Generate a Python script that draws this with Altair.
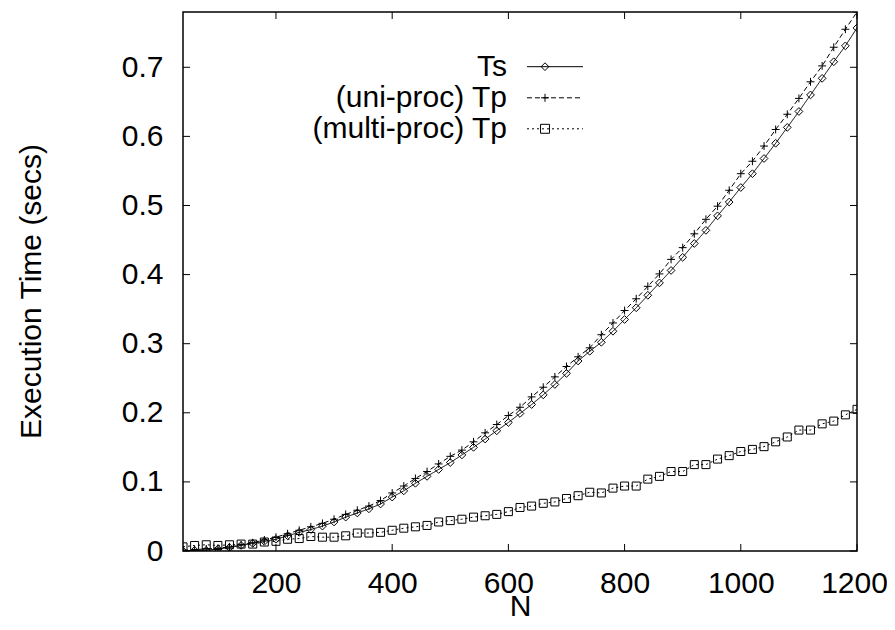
import altair as alt
import pandas as pd

# ---------------- data ----------------
N = [40, 60, 80, 100, 120, 140, 160, 180, 200, 220, 240, 260, 280, 300, 320, 340,
     360, 380, 400, 420, 440, 460, 480, 500, 520, 540, 560, 580, 600, 620, 640, 660,
     680, 700, 720, 740, 760, 780, 800, 820, 840, 860, 880, 900, 920, 940, 960, 980,
     1000, 1020, 1040, 1060, 1080, 1100, 1120, 1140, 1160, 1180, 1200]

ts = [0.000, 0.001, 0.001, 0.003, 0.005, 0.008, 0.011, 0.014, 0.017, 0.022, 0.027,
      0.031, 0.036, 0.042, 0.049, 0.055, 0.061, 0.068, 0.078, 0.087, 0.098, 0.108,
      0.118, 0.128, 0.139, 0.150, 0.162, 0.174, 0.186, 0.199, 0.212, 0.226, 0.241,
      0.257, 0.275, 0.289, 0.302, 0.318, 0.335, 0.352, 0.370, 0.388, 0.406, 0.425,
      0.445, 0.464, 0.485, 0.505, 0.526, 0.546, 0.568, 0.590, 0.613, 0.636, 0.660,
      0.684, 0.708, 0.731, 0.757]

tp_uni = [0.001, 0.002, 0.003, 0.004, 0.006, 0.009, 0.012, 0.016, 0.020, 0.025, 0.030,
          0.035, 0.040, 0.046, 0.053, 0.059, 0.065, 0.073, 0.084, 0.094, 0.105, 0.115,
          0.126, 0.137, 0.146, 0.158, 0.171, 0.183, 0.196, 0.208, 0.223, 0.237, 0.252,
          0.267, 0.281, 0.294, 0.313, 0.330, 0.348, 0.365, 0.383, 0.401, 0.422, 0.439,
          0.459, 0.480, 0.499, 0.522, 0.546, 0.564, 0.586, 0.610, 0.632, 0.655, 0.679,
          0.702, 0.729, 0.755, 0.780]

tp_multi = [0.006, 0.008, 0.009, 0.008, 0.009, 0.010, 0.010, 0.013, 0.014, 0.017, 0.018,
            0.021, 0.020, 0.020, 0.022, 0.026, 0.026, 0.027, 0.030, 0.033, 0.035, 0.037,
            0.042, 0.044, 0.046, 0.049, 0.051, 0.053, 0.057, 0.063, 0.065, 0.069, 0.071,
            0.076, 0.080, 0.085, 0.084, 0.091, 0.094, 0.094, 0.104, 0.108, 0.115, 0.115,
            0.125, 0.125, 0.133, 0.138, 0.144, 0.147, 0.151, 0.158, 0.165, 0.175, 0.175,
            0.184, 0.188, 0.197, 0.205]

series_names = ["Ts", "(uni-proc) Tp", "(multi-proc) Tp"]
x_ticks = [200, 400, 600, 800, 1000, 1200]
y_ticks = [0, 0.1, 0.2, 0.3, 0.4, 0.5, 0.6, 0.7]

# ---------------- build ----------------
rows = []
for name, vals in zip(series_names, [ts, tp_uni, tp_multi]):
    for n, v in zip(N, vals):
        rows.append({"N": n, "t": v, "series": name})
df = pd.DataFrame(rows)

W, H = 674, 539
FONT = "Liberation Sans"
FS = 30

PLUS = "M-1,0H1M0,-1V1"
dash_range = [[1, 0], [5, 3], [2, 3]]
shape_range = ["diamond", PLUS, "square"]
size_range = [60, 64, 80]

xs = alt.Scale(domain=[40, 1200], nice=False, zero=False)
ys = alt.Scale(domain=[0, 0.78], nice=False, zero=False)

xaxis = alt.Axis(values=x_ticks, format="d", ticks=False, domain=False, grid=False,
                 labelFlush=False, labelOverlap=False, labelBound=False,
                 labelOffset={"condition": {"test": "datum.value == 1200", "value": -3}, "value": 0},
                 labelPadding=17, labelFontSize=FS, labelFont=FONT, labelColor="black",
                 title="N", titleFontSize=FS, titleFont=FONT, titleFontWeight="normal",
                 titleColor="black", titleBaseline="middle", titleY=55, titleX=W / 2)
yaxis = alt.Axis(values=y_ticks, ticks=False, domain=False, grid=False,
                 labelFlush=False, labelOverlap=False, labelBound=False,
                 labelPadding=20, labelFontSize=FS, labelFont=FONT, labelColor="black",
                 labelExpr="datum.value == 0 ? '0' : format(datum.value, '.1f')",
                 title="Execution Time (secs)", titleFontSize=FS, titleFont=FONT,
                 titleFontWeight="normal", titleColor="black", titleBaseline="middle",
                 titleX=-152, titleY=279, titleAngle=270)

X = alt.X("N:Q", scale=xs, axis=xaxis)
Y = alt.Y("t:Q", scale=ys, axis=yaxis)

dash_enc = alt.StrokeDash("series:N", scale=alt.Scale(domain=series_names, range=dash_range), legend=None)
shape_enc = alt.Shape("series:N", scale=alt.Scale(domain=series_names, range=shape_range), legend=None)
size_enc = alt.Size("series:N", scale=alt.Scale(domain=series_names, range=size_range), legend=None)

lines = alt.Chart(df).mark_line(color="black", strokeWidth=1, clip=True).encode(
    x=X, y=Y, strokeDash=dash_enc, detail="series:N")
points = alt.Chart(df).mark_point(filled=False, color="black", strokeWidth=1, opacity=1, clip=True).encode(
    x=X, y=Y, shape=shape_enc, size=size_enc)

xt = pd.DataFrame({"N": x_ticks})
yt = pd.DataFrame({"t": y_ticks})
TL = 7
tick_b = alt.Chart(xt).mark_rule(color="black", strokeWidth=1).encode(x=X, y=alt.value(H), y2=alt.value(H - TL))
tick_t = alt.Chart(xt).mark_rule(color="black", strokeWidth=1).encode(x=X, y=alt.value(0), y2=alt.value(TL))
tick_l = alt.Chart(yt).mark_rule(color="black", strokeWidth=1).encode(y=Y, x=alt.value(0), x2=alt.value(TL))
tick_r = alt.Chart(yt).mark_rule(color="black", strokeWidth=1).encode(y=Y, x=alt.value(W - TL), x2=alt.value(W))

# ---------------- legend (gnuplot style: label, then sample) ----------------
leg_layers = []
row_y = [54.7, 85.8, 116.8]
for i, name in enumerate(series_names):
    ly = row_y[i]
    lab = alt.Chart(pd.DataFrame({"label": [name]})).mark_text(
        align="right", baseline="middle", fontSize=FS, font=FONT, color="black"
    ).encode(text="label:N", x=alt.value(324), y=alt.value(ly))
    seg = alt.Chart(pd.DataFrame({"label": [name]})).mark_rule(
        color="black", strokeWidth=1, strokeDash=dash_range[i]
    ).encode(x=alt.value(344), x2=alt.value(400), y=alt.value(ly))
    mk = alt.Chart(pd.DataFrame({"label": [name]})).mark_point(
        filled=False, color="black", strokeWidth=1, opacity=1,
        shape=shape_range[i], size=size_range[i]
    ).encode(x=alt.value(362), y=alt.value(ly))
    leg_layers += [lab, seg, mk]

chart = alt.layer(lines, points, tick_b, tick_t, tick_l, tick_r, *leg_layers).properties(
    width=W, height=H,
    autosize=alt.AutoSizeParams(type="none"),
    padding={"left": 175, "top": 4, "right": 30, "bottom": 71},
    background="white",
).configure_view(stroke="black", strokeWidth=1.5)

chart.save("out.html", embed_options={"renderer": "svg", "actions": False})
